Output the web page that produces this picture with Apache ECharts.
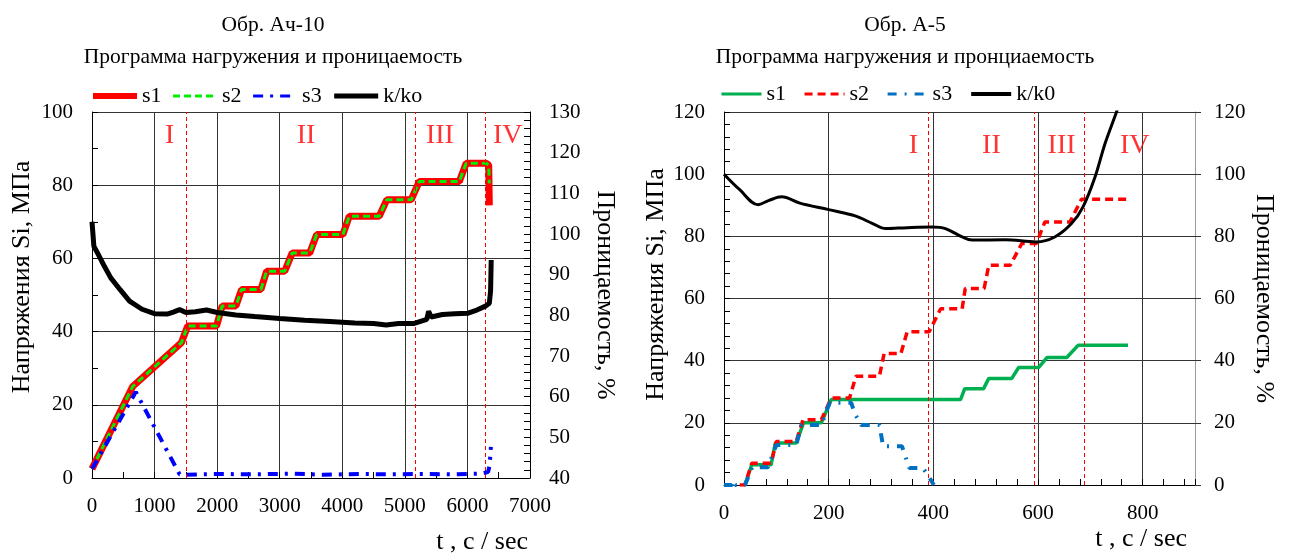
<!DOCTYPE html>
<html>
<head>
<meta charset="utf-8">
<script src="https://cdn.jsdelivr.net/npm/echarts@6/dist/echarts.min.js"></script>
<style>
  html, body { margin: 0; padding: 0; background: #fff; }
  #chart { width: 1291px; height: 555px; }
</style>
</head>
<body>
<div id="chart"></div>
<script>
// ---------- Sample Ач-10 : time, s ----------
const achStressT = [0, 650, 1430, 1530, 1990, 2080, 2300, 2390, 2700, 2790, 3080, 3200, 3480, 3590, 4010, 4110, 4590, 4710, 5100, 5230, 5870, 5980, 6300, 6340, 6350];
const achS1      = [2.5, 25, 37, 41.5, 41.5, 47, 47, 51.5, 51.5, 56.5, 56.5, 61.5, 61.5, 66.5, 66.5, 71.5, 71.5, 76, 76, 81, 81, 86, 86, 85.5, 74.5];
const achS2      = [2.5, 25, 37, 41.5, 41.5, 47, 47, 51.5, 51.5, 56.5, 56.5, 61.5, 61.5, 66.5, 66.5, 71.5, 71.5, 76, 76, 81, 81, 86, 86, 85.5, 80.5];
const achS3T     = [0, 700, 1400, 1500, 2000, 2600, 3200, 3700, 4300, 4800, 5300, 5800, 6200, 6330, 6355, 6375];
const achS3      = [2.5, 23.5, 1, 0.9, 1.1, 1.0, 1.2, 0.9, 1.1, 1.0, 1.1, 1.0, 1.2, 1.6, 3.5, 8.5];
const achKT      = [0, 30, 100, 200, 300, 450, 600, 800, 1000, 1200, 1300, 1400, 1500, 1650, 1830, 2000, 2300, 2600, 3000, 3400, 3800, 4200, 4500, 4700, 4900, 5150, 5350, 5380, 5420, 5600, 5800, 6000, 6150, 6280, 6350, 6370, 6380];
const achK       = [103, 97, 95, 92, 89.2, 86.3, 83.5, 81.5, 80.4, 80.3, 80.8, 81.4, 80.7, 80.9, 81.3, 80.7, 80.1, 79.7, 79.2, 78.8, 78.5, 78.1, 78.0, 77.6, 78.0, 78.0, 79.0, 81.0, 79.6, 80.2, 80.4, 80.5, 81.3, 82.2, 83.0, 86, 93.6];
const achStageT  = [1500, 5160, 6290];
const achRomanT  = [1240, 3420, 5560, 6645];
const achRomanY  = [93.5, 93.5, 93.5, 93.5];

// ---------- Sample А-5 : time, s ----------
const a5S1T = [40, 53, 90, 98, 138, 152, 186, 205, 452, 460, 496, 506, 550, 563, 601, 617, 655, 677, 772];
const a5S1  = [0, 6.5, 6.5, 13.5, 13.5, 20, 20, 27.5, 27.5, 31, 31, 34.3, 34.3, 37.8, 37.8, 41, 41, 45, 45];
const a5S2T = [30, 40, 53, 90, 100, 138, 151, 186, 205, 240, 252, 297, 306, 338, 350, 392, 414, 455, 461, 497, 506, 547, 569, 597, 613, 661, 683, 772];
const a5S2  = [0, 0, 7, 7, 14, 14, 21, 21, 28, 28, 35, 35, 42.3, 42.3, 49.3, 49.3, 56.7, 56.7, 63.2, 63.2, 70.7, 70.7, 77.7, 77.7, 84.6, 84.6, 91.9, 91.9];
const a5S3T = [0, 15, 18, 22, 40, 54, 84, 100, 138, 148, 186, 202, 243, 250, 262, 297, 304, 340, 354, 380, 390, 401];
const a5S3  = [0, 0, 1.5, 0, 0, 5.7, 5.7, 12.9, 12.9, 19.3, 19.3, 26.5, 26.5, 23, 19.3, 19.3, 12.5, 12.5, 5.5, 5.5, 3, 0];
const a5KT  = [0, 30, 65, 85, 110, 145, 200, 252, 284, 309, 350, 398, 423, 455, 474, 537, 597, 632, 664, 686, 709, 728, 750, 760];
const a5K   = [100, 95, 90.2, 91.5, 92.7, 90.7, 88.6, 86.5, 84.1, 82.5, 82.8, 83.0, 82.5, 79.8, 78.8, 78.9, 78.2, 79.8, 84.1, 89.5, 99.1, 109.8, 120, 125];
const a5StageT = [390, 592, 688];
const a5RomanT = [362, 511, 645, 785];
const a5RomanY = [109.3, 109.3, 109.3, 109.3];

const romanText = ['I', 'II', 'III', 'IV'];

const zip = (xs, ys) => xs.map((x, i) => [x, ys[i]]);
const FONT = '"Liberation Serif", "Times New Roman", serif';
const BLACK = '#000';
const GRID = '#333';
const plainNumber = v => String(v);
const NAME_STYLE = { fontFamily: FONT, fontSize: 26, color: BLACK };

function valueX(gridIndex, max, interval, minorSplit, name, opts) {
  return Object.assign({
    gridIndex, type: 'value', min: 0, max, interval,
    axisLine: { show: true, lineStyle: { color: BLACK, width: 1 } },
    axisTick: { show: true, inside: true, length: 6, lineStyle: { color: BLACK } },
    minorTick: { show: true, splitNumber: minorSplit, length: 6, lineStyle: { color: BLACK } },
    splitLine: { show: true, lineStyle: { color: GRID, width: 1 } },
    name,
    nameLocation: 'end',
    nameGap: -2
  }, opts);
}

function valueY(gridIndex, position, min, max, interval, opts) {
  return Object.assign({
    gridIndex, type: 'value', position, min, max, interval,
    axisLine: { show: true, lineStyle: { color: BLACK, width: 1 } },
    axisTick: { show: true, inside: true, length: 6, lineStyle: { color: BLACK } },
    splitLine: { show: false },
    axisLabel: { fontFamily: FONT, fontSize: 21, color: BLACK, margin: 19, formatter: plainNumber },
    nameLocation: 'middle',
    nameTextStyle: NAME_STYLE
  }, opts);
}

function stageSeries(xi, yi, tArr, yArr, stages) {
  return {
    type: 'scatter', xAxisIndex: xi, yAxisIndex: yi, silent: true,
    symbolSize: 1, itemStyle: { color: 'rgba(0,0,0,0)' },
    data: tArr.map((t, i) => [t, yArr[i], romanText[i]]),
    label: {
      show: true, position: 'inside', formatter: p => p.value[2],
      fontFamily: FONT, fontSize: 28, color: '#ff0000'
    },
    markLine: {
      silent: true, symbol: ['none', 'none'], label: { show: false },
      lineStyle: { color: '#ff0000', type: [4, 3], width: 1 },
      data: stages.map(t => ({ xAxis: t }))
    },
    z: 1
  };
}

const legendText = { fontFamily: FONT, fontSize: 22, color: BLACK };
const titleText = { fontFamily: FONT, fontSize: 21.5, fontWeight: 'normal', color: BLACK, lineHeight: 32 };

const chart = echarts.init(document.getElementById('chart'), null, { renderer: 'canvas' });
chart.setOption({
  animation: false,
  backgroundColor: '#fff',
  title: [
    { text: 'Обр. Ач-10\nПрограмма нагружения и проницаемость', left: 268, top: 4, textAlign: 'center', textStyle: titleText },
    { text: 'Обр. А-5\nПрограмма нагружения и пронциаемость', left: 900, top: 4, textAlign: 'center', textStyle: titleText }
  ],
  legend: [
    { data: [
        { name: 's1', lineStyle: { width: 6 } },
        { name: 's2', lineStyle: { width: 3 } },
        { name: 's3', lineStyle: { width: 3 } },
        { name: 'k/ko', lineStyle: { width: 5 } }
      ],
      left: 90, top: 85, padding: 0, itemWidth: 44, itemHeight: 14, itemGap: 10,
      itemStyle: { opacity: 0 },
      selectedMode: false, textStyle: legendText },
    { data: [
        { name: 's1 ', lineStyle: { width: 3 } },
        { name: 's2 ', lineStyle: { width: 3 } },
        { name: 's3 ', lineStyle: { width: 3 } },
        { name: 'k/k0', lineStyle: { width: 4 } }
      ],
      left: 720, top: 83, padding: 0, itemWidth: 40, itemHeight: 14, itemGap: 17,
      itemStyle: { opacity: 0 },
      selectedMode: false, formatter: n => n.trim(), textStyle: legendText }
  ],
  grid: [
    { left: 92, top: 112, width: 438, height: 370 },
    { left: 724, top: 112, width: 471, height: 373 }
  ],
  xAxis: [
    valueX(0, 7000, 1000, 2, 't , c / sec', {
      axisLabel: { fontFamily: FONT, fontSize: 21, color: BLACK, margin: 18, formatter: plainNumber },
      nameTextStyle: Object.assign({ align: 'right', verticalAlign: 'top', padding: [51, 0, 0, 0] }, NAME_STYLE) }),
    valueX(1, 900, 200, 5, 't , c / sec', {
      axisLabel: { fontFamily: FONT, fontSize: 21, color: BLACK, margin: 18, showMaxLabel: false, formatter: plainNumber },
      nameGap: -8,
      nameTextStyle: Object.assign({ align: 'right', verticalAlign: 'top', padding: [41, 0, 0, 0] }, NAME_STYLE) })
  ],
  yAxis: [
    valueY(0, 'left', 0, 100, 20, {
      minorTick: { show: true, splitNumber: 2, length: 6, lineStyle: { color: BLACK } },
      splitLine: { show: true, lineStyle: { color: GRID, width: 1 } },
      name: 'Напряжения Si, МПа', nameGap: 57,
      nameTextStyle: Object.assign({ padding: [0, 0, 0, 36] }, NAME_STYLE) }),
    valueY(0, 'right', 40, 130, 10, {
      minorTick: { show: true, splitNumber: 5, length: 6, lineStyle: { color: BLACK } },
      name: 'Проницаемость, %', nameRotate: -90, nameGap: 62 }),
    valueY(1, 'left', 0, 120, 20, {
      minorTick: { show: true, splitNumber: 5, length: 6, lineStyle: { color: BLACK } },
      splitLine: { show: true, lineStyle: { color: GRID, width: 1 } },
      name: 'Напряжения Si, МПа', nameGap: 47,
      nameTextStyle: Object.assign({ padding: [0, 0, 0, 28] }, NAME_STYLE) }),
    valueY(1, 'right', 0, 120, 20, {
      axisLine: { show: true, lineStyle: { color: '#9a9a9a', width: 1 } },
      axisTick: { show: true, inside: false, length: 6, lineStyle: { color: GRID } },
      name: 'Проницаемость, %', nameRotate: -90, nameGap: 56 })
  ],
  series: [
    // Ач-10
    { name: 's1', type: 'line', xAxisIndex: 0, yAxisIndex: 0, symbol: 'none', data: zip(achStressT, achS1),
      lineStyle: { color: '#ff0000', width: 7 }, itemStyle: { color: '#ff0000' }, z: 3 },
    { name: 's2', type: 'line', xAxisIndex: 0, yAxisIndex: 0, symbol: 'none', data: zip(achStressT, achS2),
      lineStyle: { color: '#00ee00', width: 3, type: [7, 4] }, itemStyle: { color: '#00ee00' }, z: 4 },
    { name: 's3', type: 'line', xAxisIndex: 0, yAxisIndex: 0, symbol: 'none', data: zip(achS3T, achS3),
      lineStyle: { color: '#0000ff', width: 4, type: [10, 7, 3, 7] }, itemStyle: { color: '#0000ff' }, z: 5 },
    { name: 'k/ko', type: 'line', xAxisIndex: 0, yAxisIndex: 1, symbol: 'none', data: zip(achKT, achK),
      lineStyle: { color: BLACK, width: 5 }, itemStyle: { color: BLACK }, z: 6 },
    stageSeries(0, 0, achRomanT, achRomanY, achStageT),
    // А-5
    { name: 's1 ', type: 'line', xAxisIndex: 1, yAxisIndex: 2, symbol: 'none', data: zip(a5S1T, a5S1),
      lineStyle: { color: '#00b050', width: 3.5 }, itemStyle: { color: '#00b050' }, z: 3 },
    { name: 's2 ', type: 'line', xAxisIndex: 1, yAxisIndex: 2, symbol: 'none', data: zip(a5S2T, a5S2),
      lineStyle: { color: '#ff0000', width: 3.5, type: [8, 5] }, itemStyle: { color: '#ff0000' }, z: 4 },
    { name: 's3 ', type: 'line', xAxisIndex: 1, yAxisIndex: 2, symbol: 'none', data: zip(a5S3T, a5S3),
      lineStyle: { color: '#0070c0', width: 4, type: [9, 8, 2, 8] }, itemStyle: { color: '#0070c0' }, z: 5 },
    { name: 'k/k0', type: 'line', xAxisIndex: 1, yAxisIndex: 3, symbol: 'none', smooth: 0.35, data: zip(a5KT, a5K),
      lineStyle: { color: BLACK, width: 3 }, itemStyle: { color: BLACK }, z: 6 },
    stageSeries(1, 2, a5RomanT, a5RomanY, a5StageT)
  ]
});
</script>
</body>
</html>
